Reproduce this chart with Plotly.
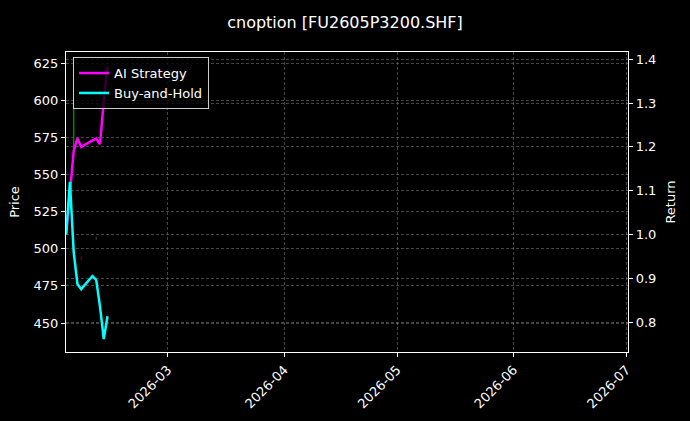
import plotly.graph_objects as go

# ---- data ----
dates = ["2026-02-02", "2026-02-03", "2026-02-04", "2026-02-05", "2026-02-06",
         "2026-02-09", "2026-02-10", "2026-02-11", "2026-02-12", "2026-02-13"]
ai_strategy = [1.0, 1.087, 1.19, 1.22, 1.20, 1.215, 1.219, 1.206, 1.305, 1.382]
buy_and_hold = [1.0, 1.12, 0.96, 0.887, 0.875, 0.905, 0.896, 0.835, 0.761, 0.813]

# visible price bars (high-low)
price_dates = ["2026-02-04", "2026-02-06", "2026-02-10"]
price_high = [598, 495, 508]
price_low = [566, 492, 506]
price_colors = ["rgba(0,150,0,0.9)", "rgba(150,0,0,0.6)", "rgba(90,90,90,0.6)"]

title_text = "cnoption [FU2605P3200.SHF]"

fig = go.Figure()

# price bars on left axis
for d, h, l, c in zip(price_dates, price_high, price_low, price_colors):
    fig.add_trace(go.Scatter(x=[d, d], y=[l, h], mode="lines",
                             line=dict(color=c, width=1.5),
                             showlegend=False, hoverinfo="skip", yaxis="y"))

fig.add_trace(go.Scatter(x=dates, y=ai_strategy, mode="lines", name="AI Strategy",
                         line=dict(color="#ff00ff", width=2.5), yaxis="y2"))
fig.add_trace(go.Scatter(x=dates, y=buy_and_hold, mode="lines", name="Buy-and-Hold",
                         line=dict(color="#00ffff", width=2.5), yaxis="y2"))

grid = dict(showgrid=True, gridcolor="rgba(150,150,150,0.45)", griddash="3px,2px", gridwidth=0.5)
font_family = "DejaVu Sans"
axis_common = dict(showline=True, linecolor="white", linewidth=1.2,
                   ticks="outside", ticklen=4, tickcolor="white",
                   tickfont=dict(size=13, color="white"), zeroline=False,
                   automargin=False, **grid)

W, H = 690, 421

fig.update_layout(
    width=W, height=H, autosize=False,
    paper_bgcolor="#000000", plot_bgcolor="#000000",
    margin=dict(l=66, r=62, t=52, b=69, autoexpand=False),
    font=dict(family=font_family, color="white", size=13),
    title=dict(text=title_text, x=0.5, xanchor="center", y=1 - 22 / H,
               yanchor="middle", yref="container", pad=dict(t=0, b=0, l=0, r=0),
               font=dict(size=16, color="white", family=font_family)),
    xaxis=dict(type="date", range=["2026-02-01 23:00", "2026-07-01 10:00"],
               tick0="2026-03-01", dtick="M1", tickformat="%Y-%m", tickangle=-45,
               mirror=True, **axis_common),
    yaxis=dict(range=[430.5, 632.4], dtick=25, tick0=450,
               title=dict(text="Price", standoff=10, font=dict(size=13, color="white")),
               **axis_common),
    yaxis2=dict(range=[0.7315, 1.4167], dtick=0.1, tick0=0.8, tickformat=".1f",
                overlaying="y", side="right",
                title=dict(text="Return", standoff=10, font=dict(size=13, color="white")),
                **axis_common),
    legend=dict(x=0.0125, y=0.983, xanchor="left", yanchor="top",
                bgcolor="rgba(0,0,0,0.8)", bordercolor="#cccccc", borderwidth=1,
                font=dict(size=13, color="white"), itemwidth=30,
                tracegroupgap=0),
    showlegend=True,
)

fig.write_html(
    "out.html",
    config={"displayModeBar": False},
    post_script="document.body.style.margin='0';document.body.style.padding='0';"
                "document.body.style.background='#000000';"
                "document.documentElement.style.background='#000000';"
                "document.body.style.overflow='hidden';",
)
